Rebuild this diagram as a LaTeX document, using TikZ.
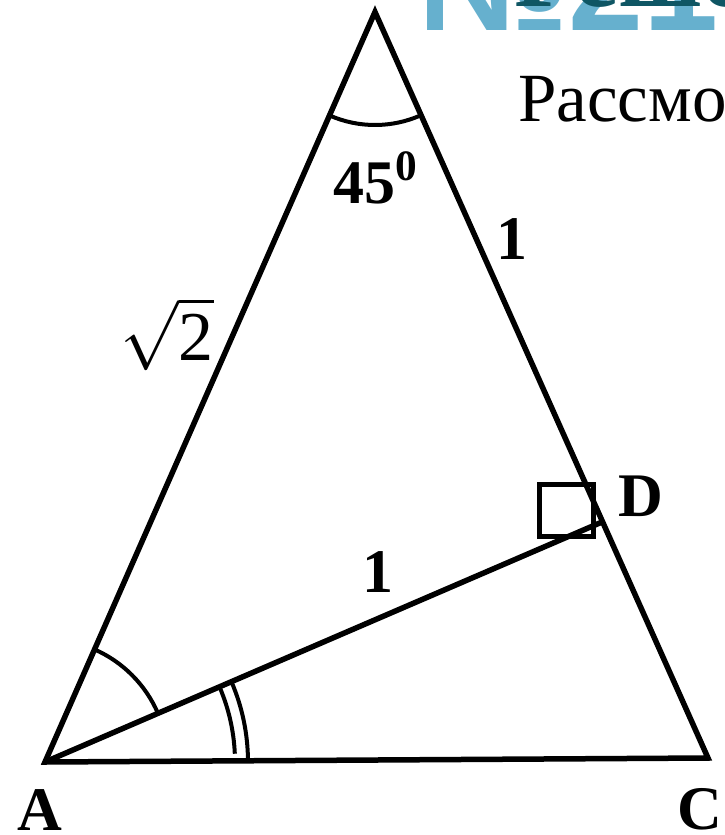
\RequirePackage{fix-cm}
\documentclass[tikz,border=0pt]{standalone}
\usepackage{amsmath}
\usepackage{fontspec}
\setmainfont{Liberation Serif}
\setsansfont{Liberation Sans}
\usetikzlibrary{angles}
\definecolor{titleblue}{RGB}{102,176,206}
\definecolor{titleteal}{RGB}{15,86,100}

\begin{document}
\begin{tikzpicture}[
  x=1pt, y=-1pt,
  side/.style={line width=5.5pt, line join=miter},
  anglemark/.style={draw, line width=4pt},
  lbl/.style={font=\fontsize{62}{70}\selectfont\bfseries, inner sep=0pt},
]
\clip (0,0) rectangle (724,835);

% Title (cut off at the top)
\node[anchor=base west, inner sep=0pt, text=titleblue, font=\fontsize{135}{140}\selectfont\sffamily\bfseries] (num) at (418,30) {№21};
\node[anchor=base west, inner sep=0pt, text=titleteal, font=\fontsize{100}{110}\selectfont\bfseries] (title) at (514,6) {Решение};
\node[anchor=base west, inner sep=0pt, font=\fontsize{69}{80}\selectfont] (text) at (518,121) {Рассмотрим};

% Points
\coordinate (A) at (45,762);
\coordinate (B) at (375,12);
\coordinate (C) at (708,758);
\coordinate (D) at (602,522);

% Triangle and AD
\draw[side] (A) -- (B) -- (C) -- cycle;
\draw[side] (A) -- (D);

% Angles
\pic[anglemark, angle radius=113pt] {angle = A--B--C};
\pic[anglemark, angle radius=123pt] {angle = D--A--B};
\draw[line width=4pt] (A) ++(2.5:190pt) arc[start angle=2.5, end angle=23.3, radius=190pt];
\pic[anglemark, angle radius=203pt] {angle = C--A--D};
\draw[line width=5pt] (539,484) rectangle (593,536);

% Labels
\node[lbl] (angB) at (376,178) {45\textsuperscript{0}};
\node[lbl] (bd) at (512,239) {1};
\node[lbl] (ad) at (378,572) {1};
\node[inner sep=0pt, font=\fontsize{70}{78}\selectfont] (ab) at (167,334) {$\sqrt{\textup{2}}$};
\node[lbl] (labD) at (641,496) {D};
\node[lbl] (labA) at (40,810) {A};
\node[lbl] (labC) at (700,809) {C};

\end{tikzpicture}
\end{document}
